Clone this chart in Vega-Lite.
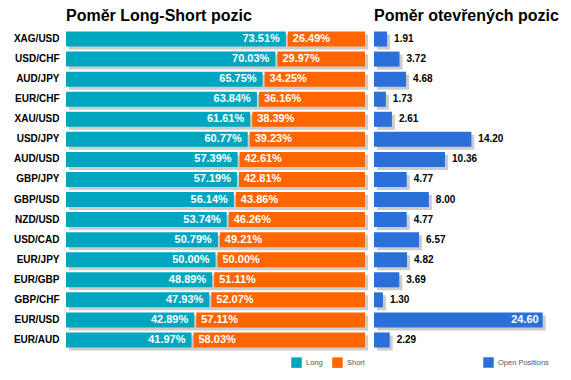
{
  "$schema": "https://vega.github.io/schema/vega-lite/v6.json",
  "background": "white",
  "padding": {"left": 13, "top": 8, "right": 5, "bottom": 5},
  "bounds": "flush",
  "spacing": 9,
  "config": {
    "font": "Liberation Sans",
    "view": {"stroke": null},
    "title": {"fontSize": 16, "fontWeight": "bold", "anchor": "start", "frame": "group", "color": "#000000", "offset": 5}
  },
  "data": {
    "values": [
      {"pair": "XAG/USD", "long": 0.7351, "short": 0.2649, "open": 1.91},
      {"pair": "USD/CHF", "long": 0.7003, "short": 0.2997, "open": 3.72},
      {"pair": "AUD/JPY", "long": 0.6575, "short": 0.3425, "open": 4.68},
      {"pair": "EUR/CHF", "long": 0.6384, "short": 0.3616, "open": 1.73},
      {"pair": "XAU/USD", "long": 0.6161, "short": 0.3839, "open": 2.61},
      {"pair": "USD/JPY", "long": 0.6077, "short": 0.3923, "open": 14.20},
      {"pair": "AUD/USD", "long": 0.5739, "short": 0.4261, "open": 10.36},
      {"pair": "GBP/JPY", "long": 0.5719, "short": 0.4281, "open": 4.77},
      {"pair": "GBP/USD", "long": 0.5614, "short": 0.4386, "open": 8.00},
      {"pair": "NZD/USD", "long": 0.5374, "short": 0.4626, "open": 4.77},
      {"pair": "USD/CAD", "long": 0.5079, "short": 0.4921, "open": 6.57},
      {"pair": "EUR/JPY", "long": 0.5000, "short": 0.5000, "open": 4.82},
      {"pair": "EUR/GBP", "long": 0.4889, "short": 0.5111, "open": 3.69},
      {"pair": "GBP/CHF", "long": 0.4793, "short": 0.5207, "open": 1.30},
      {"pair": "EUR/USD", "long": 0.4289, "short": 0.5711, "open": 24.60},
      {"pair": "EUR/AUD", "long": 0.4197, "short": 0.5803, "open": 2.29}
    ]
  },
  "resolve": {"scale": {"color": "independent"}, "legend": {"color": "independent"}},
  "hconcat": [
    {
      "width": 299,
      "height": 321,
      "title": {"text": "Poměr Long-Short pozic"},
      "encoding": {
        "y": {
          "field": "pair", "type": "nominal", "sort": null,
          "scale": {"paddingInner": 0.25, "paddingOuter": 0.125},
          "axis": {"title": null, "ticks": false, "domain": false, "grid": false, "labelFontSize": 10, "labelFontWeight": "bold", "labelColor": "#000000", "labelPadding": 7}
        }
      },
      "layer": [
        {
          "mark": {"type": "bar", "color": "#cccccc", "xOffset": 3, "x2Offset": 3, "yOffset": 3},
          "encoding": {
            "x": {"datum": 0, "type": "quantitative", "scale": {"domain": [0, 1]}, "axis": null},
            "x2": {"datum": 1}
          }
        },
        {
          "mark": {"type": "bar"},
          "encoding": {
            "x": {"field": "long", "type": "quantitative"},
            "x2": {"datum": 0},
            "color": {
              "datum": "Long",
              "scale": {"domain": ["Long", "Short"], "range": ["#00a6bf", "#ff6600"]},
              "legend": {"orient": "none", "legendX": 225, "legendY": 328, "direction": "horizontal", "title": null, "symbolType": "square", "symbolSize": 110, "symbolStrokeWidth": 0, "labelFontSize": 7.5, "labelColor": "#555555", "columnPadding": 9, "labelOffset": 4}
            }
          }
        },
        {
          "mark": {"type": "bar", "xOffset": 2},
          "encoding": {
            "x": {"field": "long", "type": "quantitative"},
            "x2": {"datum": 1},
            "color": {"datum": "Short"}
          }
        },
        {
          "mark": {"type": "text", "align": "right", "dx": -6, "color": "#ffffff", "fontSize": 11, "fontWeight": "bold"},
          "encoding": {
            "x": {"field": "long", "type": "quantitative"},
            "text": {"field": "long", "format": ".2%"}
          }
        },
        {
          "mark": {"type": "text", "align": "left", "dx": 7, "color": "#ffffff", "fontSize": 11, "fontWeight": "bold"},
          "encoding": {
            "x": {"field": "long", "type": "quantitative"},
            "text": {"field": "short", "format": ".2%"}
          }
        }
      ]
    },
    {
      "width": 192,
      "height": 321,
      "title": {"text": "Poměr otevřených pozic"},
      "encoding": {
        "y": {
          "field": "pair", "type": "nominal", "sort": null,
          "scale": {"paddingInner": 0.25, "paddingOuter": 0.125},
          "axis": null
        }
      },
      "layer": [
        {
          "mark": {"type": "bar", "color": "#cccccc", "xOffset": 3, "x2Offset": 3, "yOffset": 3},
          "encoding": {
            "x": {"field": "open", "type": "quantitative", "scale": {"domain": [0, 28]}, "axis": null},
            "x2": {"datum": 0}
          }
        },
        {
          "mark": {"type": "bar"},
          "encoding": {
            "x": {"field": "open", "type": "quantitative"},
            "x2": {"datum": 0},
            "color": {
              "datum": "Open Positions",
              "scale": {"range": ["#2a70d8"]},
              "legend": {"orient": "none", "legendX": 109, "legendY": 328, "direction": "horizontal", "title": null, "symbolType": "square", "symbolSize": 110, "symbolStrokeWidth": 0, "labelFontSize": 7.5, "labelColor": "#555555", "labelOffset": 4}
            }
          }
        },
        {
          "transform": [{"filter": "datum.open < 20"}],
          "mark": {"type": "text", "align": "left", "dx": 7, "color": "#000000", "fontSize": 10, "fontWeight": "bold"},
          "encoding": {
            "x": {"field": "open", "type": "quantitative"},
            "text": {"field": "open", "format": ".2f"}
          }
        },
        {
          "transform": [{"filter": "datum.open >= 20"}],
          "mark": {"type": "text", "align": "right", "dx": -4, "color": "#ffffff", "fontSize": 11, "fontWeight": "bold"},
          "encoding": {
            "x": {"field": "open", "type": "quantitative"},
            "text": {"field": "open", "format": ".2f"}
          }
        }
      ]
    }
  ]
}
